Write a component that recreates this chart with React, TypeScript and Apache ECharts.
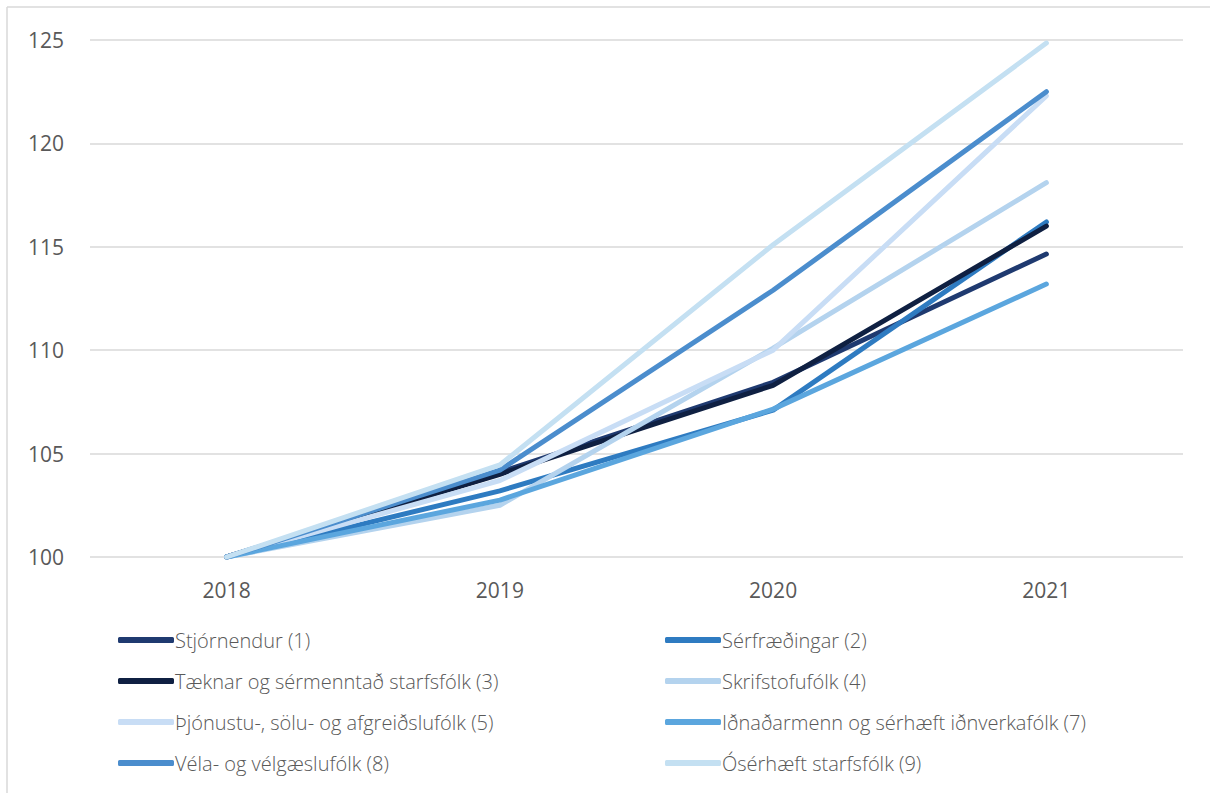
import React, { useEffect, useRef } from "react";
import * as echarts from "echarts";

const years = ["2018", "2019", "2020", "2021"];
const seriesNames = [
  "Stjórnendur (1)",
  "Sérfræðingar (2)",
  "Tæknar og sérmenntað starfsfólk (3)",
  "Skrifstofufólk (4)",
  "Þjónustu-, sölu- og afgreiðslufólk (5)",
  "Iðnaðarmenn og sérhæft iðnverkafólk (7)",
  "Véla- og vélgæslufólk (8)",
  "Ósérhæft starfsfólk (9)",
];
const s1 = [100, 104.1, 108.45, 114.65];
const s2 = [100, 103.2, 107.1, 116.2];
const s3 = [100, 104.0, 108.3, 116.0];
const s4 = [100, 102.5, 110.1, 118.1];
const s5 = [100, 103.7, 110.0, 122.3];
const s7 = [100, 102.75, 107.15, 113.2];
const s8 = [100, 104.2, 112.9, 122.5];
const s9 = [100, 104.45, 115.1, 124.85];
const seriesValues = [s1, s2, s3, s4, s5, s7, s8, s9];
const colors = [
  "#1f3a70",
  "#2e7bc1",
  "#0f2042",
  "#b4d3ee",
  "#c8ddf5",
  "#5ba6de",
  "#4b8dcd",
  "#c4e0f2",
];
const yTicks = [100, 105, 110, 115, 120, 125];

export default function App() {
  const ref = useRef<HTMLDivElement>(null);
  useEffect(() => {
    const chart = echarts.init(ref.current!, null, { renderer: "svg" });
    const font = "'Open Sans', sans-serif";
    const leftCol = [0, 2, 4, 6].map((i) => seriesNames[i]);
    const rightCol = [1, 3, 5, 7].map((i) => seriesNames[i]);
    const legendCommon = {
      orient: "vertical" as const,
      top: 623,
      icon: "roundRect",
      itemWidth: 56,
      itemHeight: 6,
      itemGap: 17,
      textStyle: {
        fontFamily: font,
        fontSize: 20,
        lineHeight: 24,
        color: "#595959",
        fontWeight: 300,
        padding: [0, 0, 0, -4],
      },
    };
    chart.setOption({
      animation: false,
      color: colors,
      grid: { left: 90, right: 27, top: 40, bottom: 236, containLabel: false },
      xAxis: {
        type: "category",
        data: years,
        boundaryGap: true,
        axisLine: { show: false },
        axisTick: { show: false },
        axisLabel: {
          fontFamily: font,
          fontSize: 21,
          color: "#595959",
          margin: 22,
        },
      },
      yAxis: {
        type: "value",
        min: yTicks[0],
        max: yTicks[yTicks.length - 1],
        interval: 5,
        axisLine: { show: false },
        axisTick: { show: false },
        axisLabel: {
          fontFamily: font,
          fontSize: 21,
          color: "#595959",
          margin: 26,
        },
        splitLine: { lineStyle: { color: "#d9d9d9", width: 1.5 } },
      },
      legend: [
        { ...legendCommon, left: 113, data: leftCol },
        { ...legendCommon, left: 660, data: rightCol },
      ],
      graphic: [
        {
          type: "line",
          shape: { x1: 7, y1: 7, x2: 1210, y2: 7 },
          style: { stroke: "#d9d9d9", lineWidth: 1.5 },
          silent: true,
        },
        {
          type: "line",
          shape: { x1: 7, y1: 7, x2: 7, y2: 793 },
          style: { stroke: "#d9d9d9", lineWidth: 1.5 },
          silent: true,
        },
      ],
      series: seriesNames.map((name, i) => ({
        name,
        type: "line",
        data: seriesValues[i],
        symbol: "none",
        lineStyle: { width: 5, cap: "round", join: "round", color: colors[i] },
        itemStyle: { color: colors[i] },
        z: 2 + i,
      })),
    });
    return () => chart.dispose();
  }, []);
  return (
    <div
      ref={ref}
      style={{ position: "fixed", left: 0, top: 0, width: 1210, height: 793, background: "#ffffff" }}
    />
  );
}
